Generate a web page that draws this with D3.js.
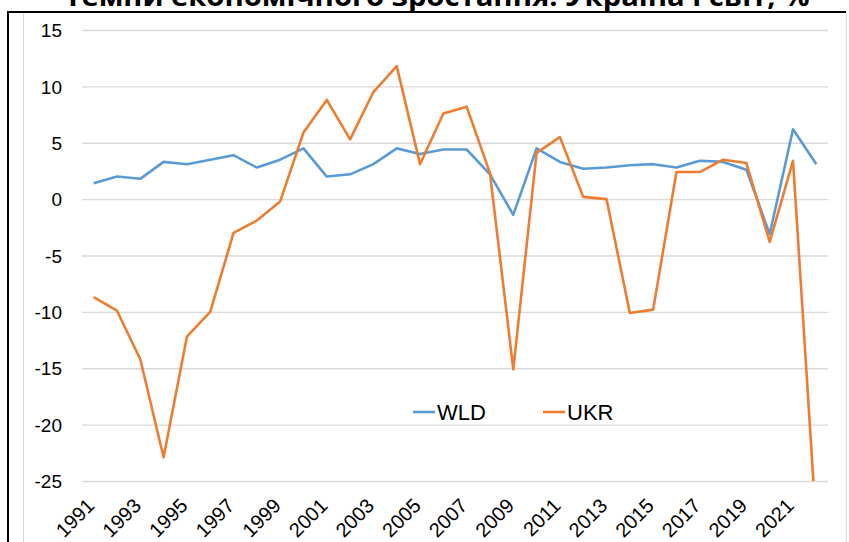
<!DOCTYPE html>
<html><head><meta charset="utf-8">
<script src="https://cdn.jsdelivr.net/npm/d3@7/dist/d3.min.js"></script>
<style>body{margin:0;background:#fff}svg{display:block}</style>
</head><body>
<svg id="c" width="849" height="542"></svg>
<script>
const years = d3.range(1991, 2023);
const wld = [1.4,2.0,1.8,3.3,3.1,3.5,3.9,2.8,3.5,4.5,2.0,2.2,3.1,4.5,4.0,4.4,4.4,2.2,-1.4,4.5,3.3,2.7,2.8,3.0,3.1,2.8,3.4,3.3,2.6,-3.1,6.2,3.1];
const ukr = [-8.7,-9.9,-14.2,-22.9,-12.2,-10.0,-3.0,-1.9,-0.2,5.9,8.8,5.3,9.5,11.8,3.1,7.6,8.2,2.3,-15.1,4.1,5.5,0.2,0.0,-10.1,-9.8,2.4,2.4,3.5,3.2,-3.8,3.4,-29.1];
const yTicks = [15,10,5,0,-5,-10,-15,-20,-25];
const xLabels = years.filter(v => (v - 1991) % 2 === 0);
const title = "Темпи економічного зростання: Україна і світ, %";
const series = [{name:"WLD", values:wld, color:"#5B9BD5"},{name:"UKR", values:ukr, color:"#ED7D31"}];

const svg = d3.select("#c");
const pL = 82, pR = 828, pT = 30, pB = 481;
const x = d3.scaleBand().domain(years).range([pL, pR]);
const y = d3.scaleLinear().domain([-25, 15]).range([pB, pT]);
const cx = d => x(d) + x.bandwidth()/2;

// frame
svg.append("line").attr("x1",8).attr("x2",8).attr("y1",11).attr("y2",542).attr("stroke","#000").attr("stroke-width",2);
svg.append("line").attr("x1",7).attr("x2",846).attr("y1",12).attr("y2",12).attr("stroke","#000").attr("stroke-width",2);
svg.append("line").attr("x1",23.5).attr("x2",23.5).attr("y1",13).attr("y2",542).attr("stroke","#d9d9d9").attr("stroke-width",1);
svg.append("line").attr("x1",846.5).attr("x2",846.5).attr("y1",13).attr("y2",542).attr("stroke","#d9d9d9").attr("stroke-width",1);

// title (clipped at top, as in the reference)
svg.append("text").attr("x",437).attr("y",6).attr("text-anchor","middle")
  .attr("font-family","'Open Sans', Arial, sans-serif").attr("font-weight","bold").attr("font-size",26)
  .attr("textLength",745).attr("lengthAdjust","spacingAndGlyphs").attr("fill","#000").text(title);

// gridlines
const yAxis = d3.axisLeft(y).tickValues(yTicks).tickSize(-(pR-pL)).tickFormat(d => d < 0 ? "-" + Math.abs(d) : d);
const gy = svg.append("g").attr("transform",`translate(${pL},0)`).call(yAxis);
gy.select(".domain").remove();
gy.selectAll(".tick line").attr("stroke","#d9d9d9").attr("stroke-width",1.3);
gy.selectAll(".tick text").attr("x",-20).attr("dy","0.35em")
  .attr("font-family","'Liberation Sans', Arial, sans-serif").attr("font-size",19).attr("fill","#000");

// x axis labels
const xAxis = d3.axisBottom(x).tickValues(xLabels).tickSize(0);
const gx = svg.append("g").attr("transform",`translate(0,${pB})`).call(xAxis);
gx.select(".domain").remove();
gx.selectAll(".tick text").attr("font-family","'Liberation Sans', Arial, sans-serif").attr("font-size",20).attr("fill","#000")
  .attr("text-anchor","end").attr("dy",0).attr("y",0)
  .attr("transform","translate(2,26) rotate(-45)");

// clip
svg.append("clipPath").attr("id","pc").append("rect").attr("x",pL).attr("y",pT-5).attr("width",pR-pL).attr("height",pB-pT+5);

const line = d3.line().x((d,i) => cx(years[i])).y(d => y(d));
svg.append("g").attr("clip-path","url(#pc)").selectAll("path").data(series).join("path")
  .attr("d", s => line(s.values)).attr("fill","none").attr("stroke", s => s.color)
  .attr("stroke-width",2.6).attr("stroke-linejoin","round");

// legend
const legX = [413, 543];
const lg = svg.append("g").selectAll("g").data(series).join("g").attr("transform",(s,i)=>`translate(${legX[i]},412)`);
lg.append("line").attr("x1",0).attr("x2",22).attr("stroke",s=>s.color).attr("stroke-width",2.6);
lg.append("text").attr("x",24).attr("dy","0.35em").attr("font-family","'Liberation Sans', Arial, sans-serif")
  .attr("font-size",22).attr("fill","#000").text(s=>s.name);
</script>
</body></html>
